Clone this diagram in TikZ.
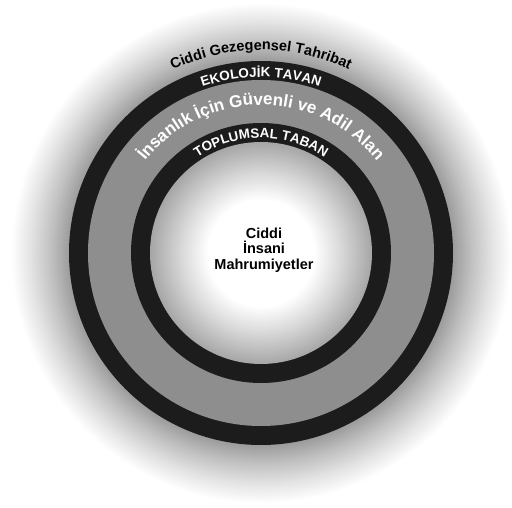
\documentclass[tikz,border=0pt]{standalone}
\usepackage{fontspec}
\setmainfont{Liberation Sans}
\usetikzlibrary{decorations.text}
\definecolor{ringblack}{HTML}{1C1C1C}
\definecolor{ringgray}{HTML}{8E8E8E}
\definecolor{glowA}{HTML}{9C9C9C}
\definecolor{glowB}{HTML}{C0C0C0}
\definecolor{glowC}{HTML}{E2E2E2}
\definecolor{coreedge}{HTML}{A6A6A6}
\definecolor{coremid}{HTML}{D8D8D8}
\pgfdeclareradialshading{outerglow}{\pgfpoint{0bp}{0bp}}{color(0bp)=(glowA); color(19.2bp)=(glowA); color(21bp)=(glowB); color(23bp)=(glowC); color(25bp)=(white); color(50bp)=(white)}
\pgfdeclareradialshading{coreglow}{\pgfpoint{0bp}{0bp}}{color(0bp)=(white); color(12bp)=(white); color(18bp)=(coremid); color(25bp)=(coreedge); color(50bp)=(coreedge)}
\tikzset{
  arctext/.style={decorate, decoration={text along path, text align=center, text={#1}}},
}
\begin{document}
\begin{tikzpicture}
\useasboundingbox (0pt,0pt) rectangle (512pt,507pt);
\fill[white] (0pt,0pt) rectangle (512pt,507pt);
\coordinate (c) at (261pt,254pt);
% rings
\shade[shading=outerglow] (c) circle[radius=250pt];
\fill[ringblack] (c) circle[radius=192pt];
\fill[ringgray] (c) circle[radius=173pt];
\fill[ringblack] (c) circle[radius=130pt];
\shade[shading=coreglow] (c) circle[radius=111pt];
% texts along arcs
\path[arctext={|\fontsize{14.5}{16}\selectfont\bfseries\color{black}|Ciddi Gezegensel Tahribat}]
  ([shift={(180:203pt)}]c) arc[start angle=180, end angle=0, radius=203pt];
\path[arctext={|\fontsize{13.5}{15}\selectfont\bfseries\color{white}|EKOLOJİK TAVAN}]
  ([shift={(180:176pt)}]c) arc[start angle=180, end angle=0, radius=176pt];
\path[arctext={|\fontsize{17}{19}\selectfont\bfseries\color{white}|İnsanlık İçin Güvenli ve Adil Alan}]
  ([shift={(180:148pt)}]c) arc[start angle=180, end angle=0, radius=148pt];
\path[arctext={|\fontsize{13.5}{15}\selectfont\bfseries\color{white}|TOPLUMSAL TABAN}]
  ([shift={(180:115pt)}]c) arc[start angle=180, end angle=0, radius=115pt];
% centre label
\node[align=center, font=\fontsize{14.5}{15.7}\selectfont\bfseries, text=black] (deprivation) at (264pt,257pt) {Ciddi\\İnsani\\Mahrumiyetler};
\end{tikzpicture}
\end{document}
